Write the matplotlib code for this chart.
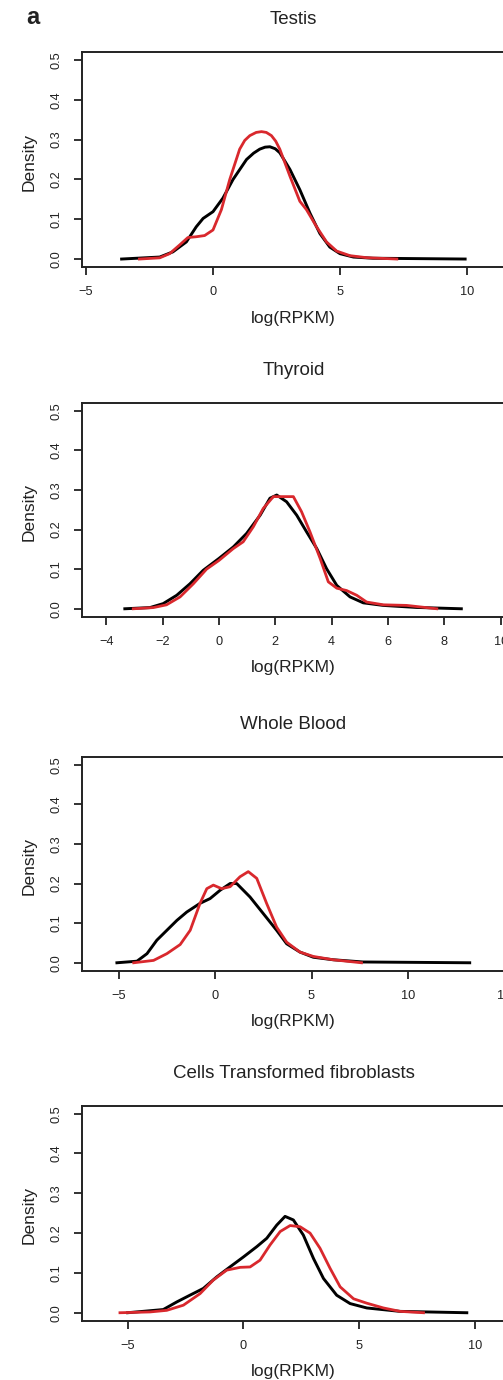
import numpy as np
import matplotlib as mpl
import matplotlib.pyplot as plt

mpl.rcParams['font.family'] = ['Liberation Sans', 'DejaVu Sans']

# ---------------------------------------------------- data
titles = ['Testis', 'Thyroid', 'Whole Blood', 'Cells Transformed fibroblasts']

testis_black_x = [-3.6, -2.1, -1.58, -1.05, -0.66, -0.39, 0.0, 0.39, 0.79, 1.32, 1.6, 1.84, 2.05, 2.24,
                  2.45, 2.63, 3.03, 3.42, 3.82, 4.21, 4.6, 5.0, 5.53, 6.3, 9.93]
testis_black_y = [0.0, 0.005, 0.018, 0.043, 0.081, 0.102, 0.119, 0.153, 0.2, 0.25, 0.266, 0.276, 0.281, 0.282,
                  0.277, 0.267, 0.225, 0.174, 0.115, 0.064, 0.03, 0.0135, 0.005, 0.002, 0.0]
testis_red_x = [-2.9, -2.1, -1.71, -1.32, -0.99, -0.66, -0.33, 0.0, 0.33, 0.66, 1.05, 1.25, 1.45, 1.7,
                1.91, 2.1, 2.3, 2.47, 2.63, 3.03, 3.42, 3.68, 4.08, 4.47, 4.87, 5.39, 6.05, 7.24]
testis_red_y = [0.0, 0.003, 0.0135, 0.035, 0.054, 0.056, 0.059, 0.073, 0.124, 0.2, 0.276, 0.298, 0.31, 0.318,
                0.32, 0.318, 0.31, 0.296, 0.276, 0.208, 0.145, 0.124, 0.081, 0.043, 0.02, 0.0085, 0.0034, 0.0]

thyroid_black_x = [-3.34, -2.45, -1.98, -1.5, -1.03, -0.56, 0.0, 0.51, 0.98, 1.46, 1.81, 2.05, 2.4,
                   2.76, 3.11, 3.47, 3.82, 4.18, 4.65, 5.12, 5.83, 7.0, 8.6]
thyroid_black_y = [0.0, 0.003, 0.013, 0.034, 0.063, 0.097, 0.127, 0.156, 0.19, 0.236, 0.279, 0.287, 0.27,
                   0.236, 0.194, 0.152, 0.101, 0.059, 0.03, 0.015, 0.0085, 0.0034, 0.0]
thyroid_red_x = [-3.04, -2.33, -1.86, -1.38, -0.91, -0.44, 0.0, 0.51, 0.86, 1.22, 1.57, 1.93, 2.28,
                 2.64, 2.93, 3.23, 3.59, 3.88, 4.18, 4.53, 4.89, 5.24, 5.83, 6.66, 7.73]
thyroid_red_y = [0.0, 0.003, 0.01, 0.03, 0.063, 0.1, 0.122, 0.152, 0.169, 0.207, 0.253, 0.283, 0.283,
                 0.283, 0.245, 0.194, 0.127, 0.068, 0.052, 0.046, 0.034, 0.017, 0.01, 0.0085, 0.0]

blood_black_x = [-5.09, -4.05, -3.53, -3.02, -2.5, -1.98, -1.47, -0.78, -0.26, 0.26, 0.78, 1.12,
                 1.81, 2.5, 3.19, 3.71, 4.4, 5.09, 6.12, 7.67, 13.2]
blood_black_y = [0.0, 0.004, 0.023, 0.057, 0.082, 0.107, 0.128, 0.15, 0.162, 0.183, 0.2, 0.2,
                 0.166, 0.124, 0.082, 0.048, 0.027, 0.014, 0.0076, 0.002, 0.0]
blood_red_x = [-4.22, -3.19, -2.5, -1.81, -1.29, -0.78, -0.43, -0.09, 0.34, 0.78, 1.29, 1.72, 2.16,
               2.67, 3.19, 3.71, 4.4, 5.09, 6.12, 7.59]
blood_red_y = [0.0, 0.006, 0.023, 0.046, 0.082, 0.15, 0.187, 0.196, 0.187, 0.192, 0.217, 0.23, 0.213,
               0.15, 0.09, 0.052, 0.027, 0.016, 0.0076, 0.0]

cells_black_x = [-5.0, -3.46, -2.88, -2.31, -1.73, -1.15, -0.58, 0.0, 0.58, 1.01, 1.44, 1.8, 2.16,
                 2.59, 3.03, 3.46, 4.03, 4.61, 5.33, 6.77, 9.65]
cells_black_y = [0.0, 0.008, 0.027, 0.044, 0.061, 0.09, 0.115, 0.14, 0.166, 0.187, 0.22, 0.242, 0.233,
                 0.195, 0.136, 0.086, 0.044, 0.023, 0.012, 0.0034, 0.0]
cells_red_x = [-5.33, -4.03, -3.31, -2.59, -1.87, -1.3, -0.72, -0.14, 0.29, 0.72, 1.15, 1.59, 2.02,
               2.45, 2.88, 3.31, 3.75, 4.18, 4.76, 5.33, 6.05, 6.77, 7.78]
cells_red_y = [0.0, 0.002, 0.006, 0.019, 0.048, 0.082, 0.107, 0.114, 0.115, 0.132, 0.17, 0.204, 0.219,
               0.216, 0.2, 0.162, 0.111, 0.065, 0.035, 0.024, 0.012, 0.0034, 0.0]

xticks = [[-5, 0, 5, 10], [-4, -2, 0, 2, 4, 6, 8, 10], [-5, 0, 5, 10, 15], [-5, 0, 5, 10]]
xlims = [(-5.16, 11.5), (-4.86, 10.15), (-6.9, 15.03), (-6.97, 11.3)]
yticks = [0.0, 0.1, 0.2, 0.3, 0.4, 0.5]

black = [(testis_black_x, testis_black_y), (thyroid_black_x, thyroid_black_y),
         (blood_black_x, blood_black_y), (cells_black_x, cells_black_y)]
red = [(testis_red_x, testis_red_y), (thyroid_red_x, thyroid_red_y),
       (blood_red_x, blood_red_y), (cells_red_x, cells_red_y)]

# ---------------------------------------------------- layout (pixels of the 503x1380 picture)
W, H = 503, 1380
left_px, right_px = 82, 505
tops_px = [52, 402.7, 756.7, 1105.7]
bottoms_px = [267, 616.7, 970.7, 1320.7]
ink = '#222222'
red_col = '#d9282d'

fig = plt.figure(figsize=(W / 100, H / 100), dpi=100)

for i in range(4):
    h_px = bottoms_px[i] - tops_px[i]
    ax = fig.add_axes([left_px / W, 1 - bottoms_px[i] / H, (right_px - left_px) / W, h_px / H])
    ax.plot(*black[i], color='black', lw=2.1, solid_joinstyle='round')
    ax.plot(*red[i], color=red_col, lw=2.0, solid_joinstyle='round')
    ax.set_xlim(*xlims[i])
    ax.set_ylim(-0.02, 0.52)
    ax.set_xticks(xticks[i])
    ax.set_yticks(yticks)
    ax.set_yticklabels(['{:.1f}'.format(v) for v in yticks], rotation=90, va='center')
    ax.tick_params(direction='out', length=5.5, width=1.3, pad=8.5, labelsize=9.2,
                   colors=ink)
    for s in ax.spines.values():
        s.set_linewidth(1.4)
        s.set_color(ink)
    ax.set_title(titles[i], fontsize=13.5, color=ink, va='center', y=1 + 32 / h_px, pad=0)
    ax.set_xlabel('log(RPKM)', fontsize=12.5, color=ink, va='center')
    ax.xaxis.set_label_coords(0.5, -51 / h_px)
    ax.set_ylabel('Density', fontsize=12.5, color=ink, va='center')
    ax.yaxis.set_label_coords(-(left_px - 29) / (right_px - left_px), 0.49)

fig.text(33 / W, 1 - 17 / H, 'a', fontsize=17, fontweight='bold', color=ink,
         ha='center', va='center')

plt.savefig('out.png', dpi=100)
